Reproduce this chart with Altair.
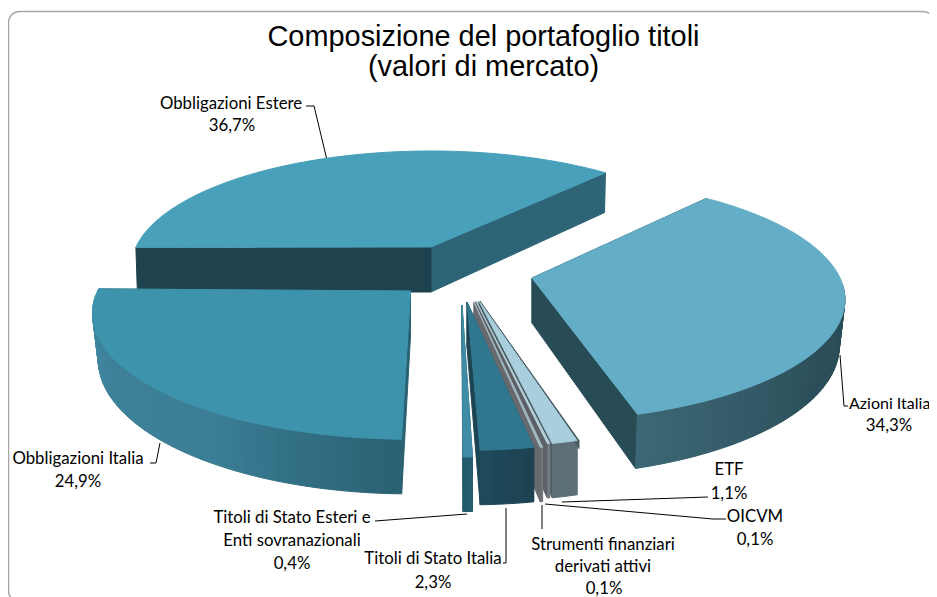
import math
import altair as alt
import pandas as pd

categories = ["Azioni Italia", "ETF", "OICVM", "Strumenti finanziari derivati attivi",
              "Titoli di Stato Italia", "Titoli di Stato Esteri e Enti sovranazionali",
              "Obbligazioni Italia", "Obbligazioni Estere"]
shares = [34.3, 1.1, 0.1, 0.1, 2.3, 0.4, 24.9, 36.7]

# slice geometry: exploded apex (x, y), radius scale, start angle on the pie
apex = {"Azioni Italia": (532, 278), "ETF": (479, 301), "OICVM": (476, 301),
        "Strumenti finanziari derivati attivi": (474, 302), "Titoli di Stato Italia": (467, 302),
        "Titoli di Stato Esteri e Enti sovranazionali": (462, 305),
        "Obbligazioni Italia": (410.5, 291), "Obbligazioni Estere": (431, 247)}
radius = {"Azioni Italia": (308, 118), "ETF": (308, 120), "OICVM": (308, 120),
          "Strumenti finanziari derivati attivi": (308, 122), "Titoli di Stato Italia": (308, 122),
          "Titoli di Stato Esteri e Enti sovranazionali": (308, 125),
          "Obbligazioni Italia": (313, 122), "Obbligazioni Estere": (295, 113)}
start = {"Azioni Italia": 50.0, "ETF": -74.7, "OICVM": -78.6, "Strumenti finanziari derivati attivi": -79.4,
         "Titoli di Stato Italia": -79.7, "Titoli di Stato Esteri e Enti sovranazionali": -88.4,
         "Obbligazioni Italia": -181.0, "Obbligazioni Estere": 48.0}
counter_clockwise = ["Obbligazioni Italia", "Obbligazioni Estere"]
bottom_inset = {"Azioni Italia": 0.982, "Obbligazioni Italia": 0.982, "Obbligazioni Estere": 0.995}
top_colour = {"Azioni Italia": "#63adc6", "ETF": "#a9cedc", "OICVM": "#b4cfd8",
              "Strumenti finanziari derivati attivi": "#a3b9c2", "Titoli di Stato Italia": "#2f788f",
              "Titoli di Stato Esteri e Enti sovranazionali": "#3f8ca6",
              "Obbligazioni Italia": "#3d93ab", "Obbligazioni Estere": "#48a0ba"}
radial_colour = {"Azioni Italia": "#284c56", "ETF": "#4b5d64", "OICVM": "#5c6066",
                 "Strumenti finanziari derivati attivi": "#66696e", "Titoli di Stato Italia": "#1c4453",
                 "Titoli di Stato Esteri e Enti sovranazionali": "#24596b",
                 "Obbligazioni Italia": "#2a6173", "Obbligazioni Estere": "#1e424e"}
wall_stops = {"Azioni Italia": ["#3c6774", "#2a4e59", "#284a54", "#284a54"],
              "ETF": ["#5c6f76", "#64787f", "#5c6f76"], "OICVM": ["#72777c", "#7a7f84"],
              "Strumenti finanziari derivati attivi": ["#6c7075", "#7a7e83"],
              "Titoli di Stato Italia": ["#1f4a5c", "#1d4352"],
              "Titoli di Stato Esteri e Enti sovranazionali": ["#24596b", "#255c6f"],
              "Obbligazioni Italia": ["#3f8ba4", "#3d8199", "#3a7d94", "#2a6173"],
              "Obbligazioni Estere": ["#2d6476", "#2d6476"]}
draw_order = ["Obbligazioni Estere", "Azioni Italia", "ETF", "OICVM",
              "Strumenti finanziari derivati attivi", "Titoli di Stato Italia",
              "Titoli di Stato Esteri e Enti sovranazionali", "Obbligazioni Italia"]
PERSPECTIVE, DEPTH = 0.177, 45

titles = ["Composizione del portafoglio titoli", "(valori di mercato)"]
title_x = [483.5, 483.5]
title_y = [37, 67]

label_text = ["Obbligazioni Estere", "36,7%", "34,3%", "ETF", "1,1%", "OICVM", "0,1%",
              "Strumenti finanziari", "derivati attivi", "0,1%", "Titoli di Stato Italia", "2,3%",
              "Titoli di Stato Esteri e", "Enti sovranazionali", "0,4%", "Obbligazioni Italia", "24,9%"]
label_x = [231, 232, 889, 729, 729, 755, 755, 603, 603, 604, 433, 433, 292, 292, 292, 78, 78]
label_y = [103.5, 125.5, 425.5, 469.5, 493.5, 516.5, 539.5, 544.5, 566.5, 588.5, 558.5, 582.5,
           517.5, 540.5, 563.5, 458.5, 481.5]

leaders = {
    "Obbligazioni Estere": [(306, 106), (314, 106), (326.5, 158)],
    "Azioni Italia": [(840, 355), (844, 406), (848, 406)],
    "Obbligazioni Italia": [(150, 463), (156, 463), (160, 443)],
    "Titoli Esteri": [(375, 521), (467, 514)],
    "Titoli Italia": [(503, 563), (506, 563), (506, 508)],
    "Strumenti": [(542, 505), (542, 529)],
    "OICVM": [(545, 504), (713, 519), (726, 519)],
    "ETF": [(562, 502), (708, 497)],
}


def mix(a, b, f):
    pa = [int(a[i:i + 2], 16) for i in (1, 3, 5)]
    pb = [int(b[i:i + 2], 16) for i in (1, 3, 5)]
    return "#%02x%02x%02x" % tuple(round(x + (y - x) * f) for x, y in zip(pa, pb))


def ramp(stops, f):
    pos = f * (len(stops) - 1)
    i = min(int(pos), len(stops) - 2)
    return mix(stops[i], stops[i + 1], pos - i)


def project(name, angle):
    ax, ay = apex[name]
    rx, ry = radius[name]
    u, v = math.cos(math.radians(angle)), -math.sin(math.radians(angle))
    w = 1 - PERSPECTIVE * v
    x, y = ax + rx * u / w, ay + ry * v / w
    k = bottom_inset.get(name, 1.0)
    return x, y, ax + (x - ax) * k, y + DEPTH / w, v


def feature(points, colour):
    ring = [list(p) for p in points] + [list(points[0])]
    area2 = sum(ring[i][0] * ring[i + 1][1] - ring[i + 1][0] * ring[i][1] for i in range(len(ring) - 1))
    if area2 < 0:  # winding expected by the d3 identity projection
        ring = ring[::-1]
    return {"type": "Feature", "properties": {"colour": colour},
            "geometry": {"type": "Polygon", "coordinates": [ring]}}


share_of = dict(zip(categories, shares))
features = []
for name in draw_order:
    span = share_of[name] * 3.6
    t0 = start[name]
    t1 = t0 + span if name in counter_clockwise else t0 - span
    n = max(2, int(span / 1.5))
    angles = [t0 + (t1 - t0) * i / n for i in range(n + 1)]
    ax, ay = apex[name]
    arc = [project(name, a) for a in angles]
    left_first = arc[0][0] < arc[-1][0]
    for end in (arc[0], arc[-1]):
        colour = radial_colour[name]
        if name == "Obbligazioni Estere" and end[0] > ax:
            colour = "#2d6476"
        features.append(feature([(ax, ay), end[:2], end[2:4], (ax, ay + DEPTH)], colour))
    for i in range(n):
        a, b = arc[i], arc[i + 1]
        if max(a[4], b[4]) < 0.05:  # faces away from the viewer
            continue
        f = i / max(n - 1, 1)
        features.append(feature([a[:2], b[:2], b[2:4], a[2:4]],
                                ramp(wall_stops[name], f if left_first else 1 - f)))
    if name == "ETF":  # dark rim along the right-hand edge
        e = arc[0]
        features.append(feature([(ax + 1, ay), (e[0] + 2, e[1]), (e[0] + 2, e[1] + 8), (ax + 1, ay + 3)], "#465a62"))
    features.append(feature([(ax, ay)] + [p[:2] for p in arc], top_colour[name]))

shapes = alt.Chart(alt.Data(values=features)).mark_geoshape(strokeWidth=1).encode(
    fill=alt.Color("properties.colour:N", scale=None),
    stroke=alt.Color("properties.colour:N", scale=None),
).project(type="identity", scale=1, translate=[-8, -8])

X = alt.X("x:Q", scale=alt.Scale(domain=[8, 929], nice=False, zero=False), axis=None)
Y = alt.Y("y:Q", scale=alt.Scale(domain=[597, 8], nice=False, zero=False), axis=None)

frame = alt.Chart(pd.DataFrame({"x": [8.5], "x2": [934], "y": [11.5], "y2": [602]})).mark_rect(
    fill="white", stroke="#a6a6a6", strokeWidth=1.5, cornerRadius=11).encode(
    x=X, x2="x2", y=Y, y2="y2")

leader_rows = [{"id": k, "seq": i, "x": p[0], "y": p[1]} for k, v in leaders.items() for i, p in enumerate(v)]
leader_lines = alt.Chart(pd.DataFrame(leader_rows)).mark_line(color="#000000", strokeWidth=1).encode(
    x=X, y=Y, detail="id:N", order="seq:Q")

labels = alt.Chart(pd.DataFrame({"t": label_text, "x": label_x, "y": label_y})).mark_text(
    font="Lato", fontSize=16.8, color="#000000", align="center", baseline="middle").encode(x=X, y=Y, text="t:N")
azioni = alt.Chart(pd.DataFrame({"t": ["Azioni Italia"], "x": [849], "y": [403.5]})).mark_text(
    font="Lato", fontSize=16, color="#000000", align="left", baseline="middle").encode(x=X, y=Y, text="t:N")
title = alt.Chart(pd.DataFrame({"t": titles, "x": title_x, "y": title_y})).mark_text(
    font="Liberation Sans", fontSize=28.9, color="#000000", align="center", baseline="middle").encode(x=X, y=Y, text="t:N")

chart = alt.layer(frame, shapes, leader_lines, labels, azioni, title).properties(
    width=921, height=589, padding=0, background="white",
    autosize=alt.AutoSizeParams(type="none"),
).configure_view(stroke=None)

chart.save("out.html", embed_options={"renderer": "svg", "actions": False})
